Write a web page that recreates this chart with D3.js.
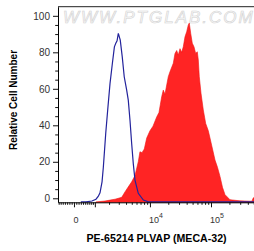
<!DOCTYPE html>
<html>
<head>
<meta charset="utf-8">
<script src="https://cdn.jsdelivr.net/npm/d3@7"></script>
<style>
  html, body { margin: 0; padding: 0; background: #fff; }
  svg text { font-family: Arial, "Liberation Sans", sans-serif; }
</style>
</head>
<body>
<div id="chart"></div>
<script>
// isotype control (blue line) - fluorescence vs relative count
const isoFluor = [300, 537, 840, 1065, 1200, 1316, 1454, 1546, 1727, 1885, 2086, 2306, 2508, 2655, 2799, 2945,
  3184, 3443, 3726, 4102, 4367, 4667, 4980, 5300, 5660, 6420, 7790, 9400, 30000, 200000, 544000];
const isoCount = [-2, -2, -1.5, -0.5, 1, 3, 9, 17, 35.6, 48.4, 63, 74, 83, 85, 86.3, 90.4,
  86.7, 77.6, 66.6, 59.3, 53.8, 42.8, 30, 19, 10, 2.7, -1, -2, -2, -2, -2];

// PE-65214 PLVAP (MECA-32) stained (red fill)
const pvFluor = [1065, 1669, 2086, 2580, 3370, 3838, 4317, 4980, 5660, 6420, 6843, 7395, 8075, 8845, 10017,
  11230, 12920, 14080, 15600, 16570, 17660, 20000, 21320, 24160, 25760, 27480, 29180, 31100, 33170, 35210,
  37550, 40020, 42510, 44150, 46540, 49430, 52700, 56170, 59670, 61980, 64340, 68650, 74810, 81880, 90330,
  96260, 105800, 116200, 127600, 140300, 154100, 169400, 204600, 298000, 434200, 468000, 486000, 505000, 544000];
const pvCount = [-2, -1.5, -1, -0.5, 0.5, 3.5, 6, 9, 12.5, 20, 25.5, 25, 27, 33, 37,
  39.5, 44.6, 47, 55.7, 59.3, 57, 66.6, 69.4, 74, 79.4, 81, 78.5, 82, 80, 83,
  88.5, 91.3, 95, 96, 90.4, 85, 83, 79.4, 80.3, 75.8, 66.6, 57.5, 48.4, 41, 37,
  33, 27, 21, 17, 12, 6, 2, -0.8, -1.4, -1.6, -1.6, 0, 0.5, 0.5];

// axis ticks
const yMajor = [0, 20, 40, 60, 80, 100];
const yMinor = [5, 10, 15, 25, 30, 35, 45, 50, 55, 65, 70, 75, 85, 90, 95];
const xMajor = [0, 1e3, 1e4, 1e5];
const xMinor = [-700, -600, -500, -400, -300, -200, -100, 100, 200, 300, 400, 500, 600, 700, 800, 900,
  2e3, 3e3, 4e3, 5e3, 6e3, 7e3, 8e3, 9e3, 2e4, 3e4, 4e4, 5e4, 6e4, 7e4, 8e4, 9e4, 2e5, 3e5, 4e5, 5e5];
const xLabels = [{ v: 0, base: '0', exp: '' }, { v: 1e4, base: '10', exp: '4' }, { v: 1e5, base: '10', exp: '5' }];

const width = 254, height = 251;
const mLeft = 58, mRight = 256, mTop = 6.7, mBottom = 202.3;

// logicle-like transform (asinh), then a linear scale
const C = 1150;
const tf = v => Math.asinh(v / C);
const x = d3.scaleLinear().domain([tf(-734), tf(544000)]).range([mLeft, mRight]);
const fx = v => x(tf(v));
const y = d3.scaleLinear().domain([-2.2, 105]).range([mBottom, mTop]);

const svg = d3.select('#chart').append('svg')
  .attr('width', width)
  .attr('height', height);

// watermark
svg.append('text')
  .attr('x', 63).attr('y', 23)
  .attr('font-size', 17)
  .attr('font-style', 'italic')
  .attr('letter-spacing', 2)
  .attr('fill', '#fafafa')
  .attr('stroke', '#d2d2d2')
  .attr('stroke-width', 0.6)
  .text('WWW.PTGLAB.COM');

// red filled histogram
const pv = pvFluor.map((f, i) => [f, pvCount[i]]);
svg.append('path')
  .datum(pv)
  .attr('fill', '#ff2424')
  .attr('stroke', '#f01414')
  .attr('stroke-width', 0.6)
  .attr('d', d3.area().x(d => fx(d[0])).y0(mBottom).y1(d => y(d[1])));

// blue isotype line
const iso = isoFluor.map((f, i) => [f, isoCount[i]]);
svg.append('path')
  .datum(iso)
  .attr('fill', 'none')
  .attr('stroke', '#23239c')
  .attr('stroke-width', 1.2)
  .attr('d', d3.line().x(d => fx(d[0])).y(d => y(d[1])));

// y axis
const yAxis = svg.append('g')
  .attr('transform', `translate(${mLeft},0)`)
  .call(d3.axisLeft(y).tickValues(yMajor).tickSize(5).tickSizeOuter(0).tickPadding(3));
yAxis.selectAll('text').attr('font-size', 10).attr('fill', '#333').attr('font-family', null);
svg.append('g')
  .attr('transform', `translate(${mLeft},0)`)
  .call(d3.axisLeft(y).tickValues(yMinor).tickSize(2.8).tickFormat('').tickSizeOuter(0))
  .select('.domain').remove();

// x axis (ticks in transformed space)
svg.append('g')
  .attr('transform', `translate(0,${mBottom})`)
  .call(d3.axisBottom(x).tickValues(xMajor.map(tf)).tickSize(5).tickFormat('').tickSizeOuter(0));
svg.append('g')
  .attr('transform', `translate(0,${mBottom})`)
  .call(d3.axisBottom(x).tickValues(xMinor.map(tf)).tickSize(2.5).tickFormat('').tickSizeOuter(0))
  .select('.domain').remove();
svg.selectAll('.tick line').attr('stroke', '#111');

// x tick labels with superscripts
const xl = svg.append('g').selectAll('text')
  .data(xLabels)
  .join('text')
  .attr('x', d => d.exp ? fx(d.v) - 1 : fx(d.v) + 2)
  .attr('y', 223.3)
  .attr('font-size', 9)
  .attr('fill', '#333')
  .attr('text-anchor', d => d.exp ? 'start' : 'middle');
xl.append('tspan').text(d => d.base);
xl.append('tspan').attr('font-size', 7).attr('dy', -5).text(d => d.exp);

// top frame line
svg.append('line')
  .attr('x1', mLeft).attr('x2', mRight)
  .attr('y1', mTop).attr('y2', mTop)
  .attr('stroke', '#222');

// axis titles
svg.append('text')
  .attr('x', 156.5).attr('y', 241.5)
  .attr('text-anchor', 'middle')
  .attr('font-size', 10.6)
  .attr('font-weight', 'bold')
  .text('PE-65214 PLVAP (MECA-32)');

svg.append('text')
  .attr('transform', 'translate(16.5,100) rotate(-90)')
  .attr('text-anchor', 'middle')
  .attr('font-size', 10)
  .attr('font-weight', 'bold')
  .text('Relative Cell Number');
</script>
</body>
</html>
